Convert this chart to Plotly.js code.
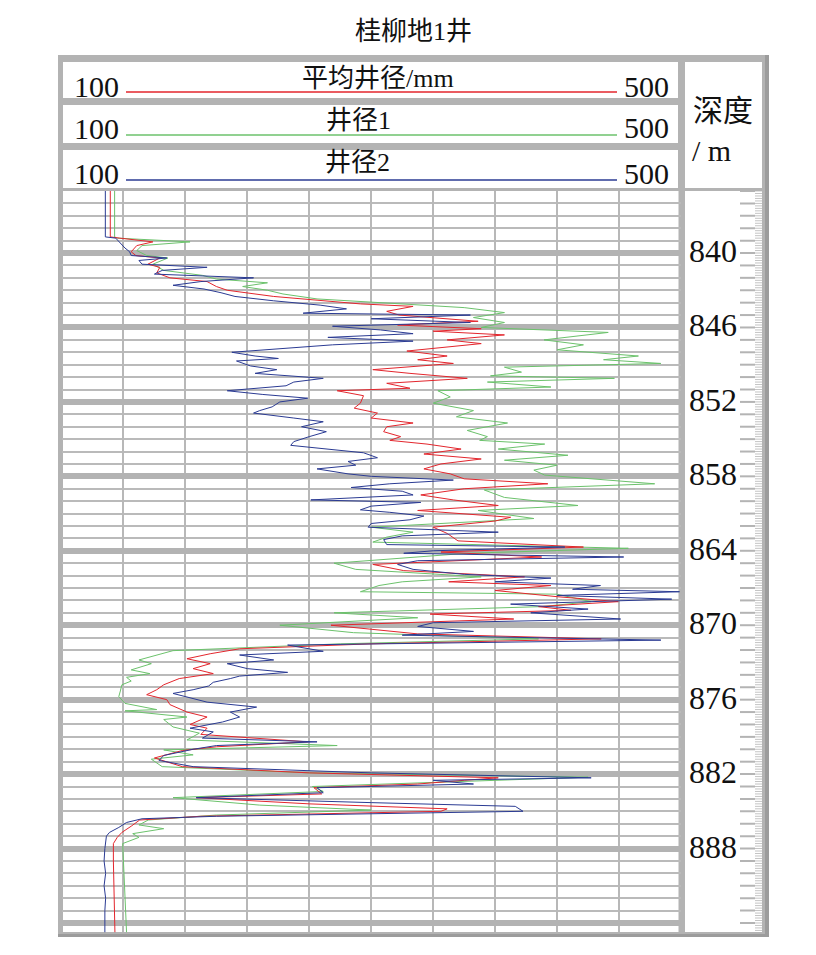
<!DOCTYPE html>
<html><head><meta charset="utf-8">
<script src="https://cdn.plot.ly/plotly-3.0.1.min.js"></script>
<style>html,body{margin:0;padding:0;background:#fff;}#chart{width:816px;height:955px;}</style>
</head><body><div id="chart"></div>
<script>
// ---------------- data ----------------
const chartTitle = "桂柳地1井";
const seriesNames = ["平均井径/mm", "井径1", "井径2"];
const scaleMin = 100, scaleMax = 500;
const depthLabels = [840, 846, 852, 858, 864, 870, 876, 882, 888];
const depthTop = 835, depthBottom = 894.76;

const blueDepth = [835,838.7,838.8,839.2,839.6,839.9,840.2,840.4,840.6,840.9,841.15,841.4,841.7,842.0,842.3,842.6,842.9,843.2,843.5,843.85,844.2,844.5,844.85,845.0,845.3,845.6,845.9,846.2,846.5,846.8,847.1,847.4,848.0,848.3,848.5,848.7,849.1,849.4,849.7,850.1,850.4,850.7,851.1,851.4,851.7,852.0,852.4,852.7,852.9,853.3,853.6,854.0,854.4,854.8,855.2,855.5,855.8,856.1,856.5,856.8,857.1,857.4,857.8,858.0,858.3,858.6,858.9,859.2,859.5,859.9,860.1,860.4,860.7,860.9,861.2,861.5,861.8,862.1,862.5,862.8,863.1,863.5,863.7,864.0,864.2,864.5,864.8,865.1,865.5,865.9,866.2,866.5,866.8,867.1,867.3,867.6,867.9,868.3,868.7,869.0,869.5,869.8,870.1,870.5,870.8,871.2,871.6,872.1,872.4,872.8,873.1,873.5,873.8,874.1,874.3,874.6,874.9,875.2,875.5,875.9,876.2,876.6,877.0,877.4,877.8,878.3,878.6,879.1,879.4,879.7,880.0,880.5,880.9,881.4,881.9,882.3,882.5,882.8,883.1,883.5,883.9,884.3,884.6,885.0,885.4,885.6,885.9,886.3,886.7,887.0,888,889,890,891,892,893,894.76];
const blueVal = [128.3,128.3,135,138,141,144,145,168,150,152,194,165,160,224,190,172,192,203,212,237,267,284,256,364,300,364,275,306,327,272,327,275,210,225,240,213,222,239,225,269,250,245,207,230,259,241,236,228,224,250,269,255,271,260,250,248,272,295,304,285,290,265,285,300,353,312,287,320,327,261,332,300,293,312,334,325,300,298,382,320,308,310,425,340,321,463,330,317,327,360,416,380,448,430,499,420,494,390,440,403,461,340,330,366,320,487,246,269,215,237,207,220,246,215,209,198,195,185,172,185,194,226,209,215,204,183,198,191,265,200,185,166,163,185,300,442,340,366,265,269,187,300,393,398,200,152,142,137,131,129,128,127.5,128.5,127.5,128.5,128,128];

const redDepth = [835,838.7,838.8,839.1,839.4,839.9,840.2,840.4,840.9,841.15,841.6,842.0,842.3,842.7,843.0,843.25,843.5,843.8,844.1,844.3,844.7,845.0,845.5,845.8,846.1,846.3,846.6,847.0,847.3,847.9,848.3,848.6,848.9,849.4,849.7,850.1,850.5,850.9,851.1,851.5,852.1,852.5,852.9,853.3,853.7,854.0,854.4,854.8,855.1,855.4,855.8,856.2,856.6,857.0,857.4,857.8,858.2,858.6,859.0,859.5,859.9,860.35,860.75,861.3,861.6,862.1,862.6,863.2,863.7,864.1,864.5,865.1,865.6,866.1,866.5,866.8,867.2,867.7,868.1,868.5,868.8,869.1,869.5,870.0,870.3,870.7,871.1,871.5,871.9,872.3,872.7,873.1,873.5,873.9,874.3,874.8,875.2,875.6,876.0,876.4,877.0,877.4,878.0,878.3,878.8,879.4,879.8,880.1,880.7,881.4,881.9,882.3,882.5,882.8,883.1,883.6,883.9,884.4,884.8,885.0,885.4,885.7,886.2,886.7,887.1,887.6,889,891,893,894.76];
const redVal = [131.5,131.5,137.6,159,148.6,145,148,163.5,155.8,163.5,161.5,170,194,200,207,224,237,265,293,327,310,318,369,317,371,340,386,349,371,323,349,330,353,301,325,362,310,325,278,295,293,289,304,300,327,310,308,319,312,336,358,334,371,345,334,351,360,414,360,332,353,382,330,390,380,340,349,356,437,345,410,301,321,399,350,416,380,420,459.5,408,429,338,392,274,300,330,448.5,300,215,196,181,196,185,198,176,166,161.5,155,168,170,181,194,183,194,190,259,200,178,160,178,260,382,360,330,263,268,187,260,349,345,190,150.5,145,139,136,133.5,133.5,134,134.5,134.5];

const greenDepth = [835,838.7,838.8,839.1,839.4,839.8,840.2,840.4,840.9,841.4,841.8,842.1,842.4,842.7,843.0,843.3,843.7,844.0,844.4,844.8,845.2,845.6,846.0,846.4,846.7,847.0,847.4,847.8,848.3,848.6,848.9,849.2,849.6,849.9,850.1,850.4,850.8,851.1,851.6,852.1,852.7,853.2,853.7,854.3,854.8,855.1,855.4,855.8,856.3,856.7,857.1,857.5,857.9,858.6,859.1,859.7,860.35,860.75,861.4,862.1,862.5,862.9,863.3,863.8,864.2,864.6,865.0,865.5,866.1,866.5,866.8,867.3,867.5,868.1,868.5,869.0,869.4,870.0,870.6,871.1,871.5,872.05,872.4,872.8,873.1,873.6,873.9,874.2,874.5,874.8,875.3,875.75,876.3,876.8,876.9,877.4,877.6,878.2,878.7,879.25,879.7,880.05,880.45,880.8,881.4,881.9,882.25,882.6,883.0,883.4,883.9,884.5,884.9,885.3,885.7,886.1,886.4,886.8,887.1,887.6,889,891,893,894.76];
const greenVal = [134.3,134.3,136,183,152,148.6,155,168.7,159,166,191,200,233,217,233,243,265,307,360,386,366,386,371,453,433.6,411.6,437,420,472.5,450,487,386,397,377,457,375,416,343,351,340,366,355,388,362,375,370,412,382,427,386,420,405,412,483,373,386,433.5,369,405,300,327,310,301,466,362,320,276,290,371,320,305,293,420,442,410,276,330,241,288.5,408,280,172,161,150,158,145,157,142,145,139,138,137,141,161.5,141,181,166,172,189,181,278,166,185,158,165,260,440,351,262,269,172,228,300,200,156,150,166,146,150,139.5,140,141,141.5,142];

// ---------------- layout helpers ----------------
const W = 816, H = 955;
const PX = x => x / W;
const PY = y => 1 - y / H;
const SERIF = "Liberation Serif, 'Noto Sans CJK SC', serif";

function rect(x0, y0, x1, y1, fill) {
  return {type: 'rect', xref: 'paper', yref: 'paper', x0: PX(x0), x1: PX(x1), y0: PY(y1), y1: PY(y0),
          fillcolor: fill, line: {width: 0}, layer: 'below'};
}
function hline(x0, x1, y, color, w) {
  return {type: 'line', xref: 'paper', yref: 'paper', x0: PX(x0), x1: PX(x1), y0: PY(y), y1: PY(y),
          line: {color: color, width: w}, layer: 'above'};
}

const colRed = '#e3262d', colGreen = '#6cc26c', colBlue = '#2b3b93';

const shapes = [
  rect(58, 55, 769, 937, '#b3b3b3'),
  rect(765, 55, 769, 937, '#9c9c9c'),
  rect(58, 934, 769, 937, '#9c9c9c'),
  rect(63, 62, 678, 98, '#ffffff'),
  rect(63, 105, 678, 143, '#ffffff'),
  rect(63, 150, 678, 188, '#ffffff'),
  rect(685, 62, 762, 188, '#ffffff'),
  rect(63, 191, 678.5, 932, '#ffffff'),
  rect(685, 191, 762, 932, '#ffffff'),
  hline(126, 617, 92, colRed, 1.6),
  hline(126, 617, 135, colGreen, 1.6),
  hline(126, 617, 180, colBlue, 1.6)
];
// depth track ticks (data coordinates on y)
for (let i = 0; i <= 59; i++) {
  const d = depthTop + i;
  shapes.push({type: 'line', xref: 'paper', yref: 'y', x0: PX(740), x1: PX(755), y0: d, y1: d,
               line: {color: '#b4b4b4', width: 2}, layer: 'above'});
}
for (let i = 0; i <= 298; i++) {
  const d = depthTop + i * 0.2;
  shapes.push({type: 'line', xref: 'paper', yref: 'y', x0: PX(755), x1: PX(762), y0: d, y1: d,
               line: {color: '#c4c4c4', width: 1}, layer: 'above'});
}

function txt(text, x, y, size, xanchor) {
  return {text: text, xref: 'paper', yref: 'paper', x: PX(x), y: PY(y), xanchor: xanchor || 'center',
          yanchor: 'middle', showarrow: false, font: {family: SERIF, size: size, color: '#111'}};
}
const annotations = [
  txt(chartTitle, 413, 32, 26),
  txt(seriesNames[0], 378, 78, 26),
  txt(seriesNames[1], 358, 121, 26),
  txt(seriesNames[2], 357, 163, 26),
  txt(String(scaleMin), 121, 87, 30, 'right'),
  txt(String(scaleMin), 121, 129, 30, 'right'),
  txt(String(scaleMin), 121, 174, 30, 'right'),
  txt(String(scaleMax), 622, 86, 30, 'left'),
  txt(String(scaleMax), 622, 128, 30, 'left'),
  txt(String(scaleMax), 622, 174, 30, 'left'),
  txt('深度', 723, 111, 30),
  txt('/ m', 690, 150, 30, 'left')
];
depthLabels.forEach(d => {
  annotations.push({text: String(d), xref: 'paper', yref: 'y', x: PX(739), y: d, yshift: 2,
    xanchor: 'right', yanchor: 'middle', showarrow: false, font: {family: SERIF, size: 32, color: '#111'}});
});

function curve(x, y, color, name) {
  return {type: 'scatter', mode: 'lines', x: x, y: y, name: name, hoverinfo: 'skip',
          line: {color: color, width: 1}};
}
const traces = [
  curve(greenVal, greenDepth, colGreen, seriesNames[1]),
  curve(redVal, redDepth, colRed, seriesNames[0]),
  curve(blueVal, blueDepth, colBlue, seriesNames[2])
];

const layout = {
  width: W, height: H, margin: {l: 0, r: 0, t: 0, b: 0},
  paper_bgcolor: '#ffffff', plot_bgcolor: 'rgba(0,0,0,0)', showlegend: false,
  xaxis: {domain: [PX(61.5), PX(681)], range: [scaleMin, scaleMax], tick0: scaleMin, dtick: 40,
          showgrid: true, gridcolor: '#b8b8b8', gridwidth: 2, showticklabels: false, ticks: '',
          zeroline: false, showline: false, fixedrange: true},
  yaxis: {domain: [PY(932.4), PY(191)], range: [depthBottom, depthTop], tick0: 840, dtick: 6,
          showgrid: true, gridcolor: '#b3b3b3', gridwidth: 6,
          minor: {dtick: 1, showgrid: true, gridcolor: '#bababa', gridwidth: 2},
          showticklabels: false, ticks: '', zeroline: false, showline: false, fixedrange: true},
  shapes: shapes, annotations: annotations
};
Plotly.newPlot('chart', traces, layout, {staticPlot: true, displayModeBar: false});
</script></body></html>
